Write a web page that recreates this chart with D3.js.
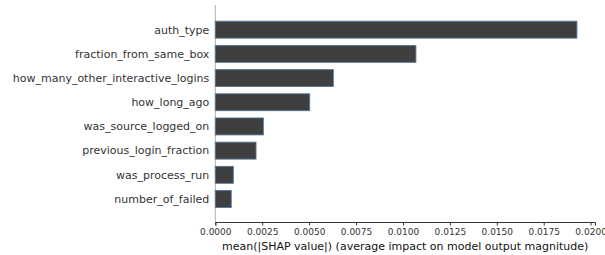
<!DOCTYPE html>
<html lang="en">
<head>
    <meta charset="utf-8">
    <title>SHAP bar</title>
    <script src="https://d3js.org/d3.v7.min.js" charset="utf-8"></script>
    <style>
        body { margin: 0; background: #fff; }
        text { font-family: "DejaVu Sans", sans-serif; }
    </style>
</head>
<body>

    <script>

    // features, top to bottom
    var features = ["auth_type", "fraction_from_same_box", "how_many_other_interactive_logins",
        "how_long_ago", "was_source_logged_on", "previous_login_fraction",
        "was_process_run", "number_of_failed"]
    var shapValues = [0.01927, 0.01069, 0.00629, 0.00503, 0.00256, 0.00217, 0.00096, 0.00085]
    var xTicks = [0, 0.0025, 0.005, 0.0075, 0.01, 0.0125, 0.015, 0.0175, 0.02]
    var xTitle = "mean(|SHAP value|) (average impact on model output magnitude)"

    var w = 605, h = 255
    // note: "top" is taken by window.top, so use plotTop/plotBottom
    var plotLeft = 215.3, plotRight = 595, plotTop = 5, plotBottom = 222

    var svg = d3.select("body").append("svg").attr("width", w).attr("height", h)

    var xScale = d3.scaleLinear().domain([0, d3.max(shapValues) * 1.05]).range([plotLeft, plotRight])
    var yScale = d3.scaleLinear().domain([-1.02, features.length - 0.05]).range([plotTop, plotBottom])
    var barH = yScale(0.7) - yScale(0)

    // zero line
    svg.append("line").attr("x1", xScale(0)).attr("x2", xScale(0))
        .attr("y1", plotTop).attr("y2", plotBottom)
        .attr("stroke", "#b0b0b0").attr("stroke-width", 1)

    svg.selectAll("rect.bar").data(shapValues).enter().append("rect")
        .attr("class", "bar")
        .attr("x", xScale(0))
        .attr("y", function(d, i) { return yScale(i) - barH / 2 })
        .attr("width", function(d) { return xScale(d) - xScale(0) })
        .attr("height", barH)
        .attr("fill", "#3f3f3f")
        .attr("stroke", "#55789c")
        .attr("stroke-width", 0.9)

    svg.selectAll("text.feat").data(features).enter().append("text")
        .attr("class", "feat")
        .attr("x", plotLeft - 6)
        .attr("y", function(d, i) { return yScale(i) })
        .attr("dy", "0.35em")
        .attr("text-anchor", "end")
        .attr("font-size", "11px")
        .attr("fill", "#333")
        .text(function(d) { return d })

    var xAxis = d3.axisBottom(xScale).tickValues(xTicks).tickFormat(d3.format(".4f")).tickSize(3.5).tickPadding(3)
    var gx = svg.append("g").attr("transform", "translate(0," + plotBottom + ")").call(xAxis)
    gx.select(".domain").attr("stroke", "#333").attr("stroke-width", 1)
    gx.selectAll(".tick line").attr("stroke", "#333")
    gx.selectAll(".tick text").attr("font-size", "9px").attr("fill", "#333")
        .attr("font-family", "DejaVu Sans, sans-serif")

    svg.append("text")
        .attr("x", (plotLeft + plotRight) / 2)
        .attr("y", 250)
        .attr("text-anchor", "middle")
        .attr("font-size", "11px")
        .attr("fill", "#111")
        .text(xTitle)

    </script>

</body>
</html>
